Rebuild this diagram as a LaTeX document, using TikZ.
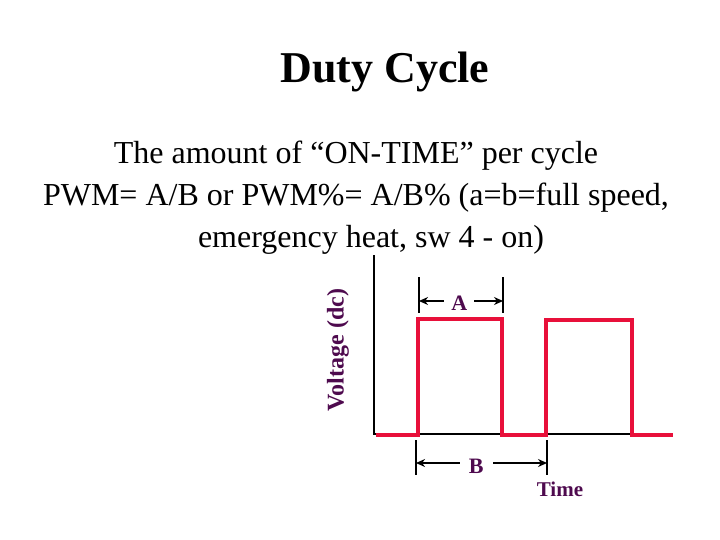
\documentclass[tikz,border=0pt]{standalone}
\usepackage{fontspec}
\setmainfont{Liberation Serif}
\usetikzlibrary{arrows.meta}
\definecolor{pulsered}{RGB}{232,16,58}
\definecolor{labelpurple}{RGB}{78,10,78}
\tikzset{
  pulse/.style={pulsered, line width=4pt, line join=miter},
  axisline/.style={black, line width=2pt},
  tick/.style={black, line width=1.6pt},
  span/.style={black, line width=1.4pt, {Stealth[length=9pt,width=8pt]}-{Stealth[length=9pt,width=8pt]}},
  lbl/.style={text=labelpurple, font=\fontsize{22}{26}\selectfont\bfseries},
}
\begin{document}
\begin{tikzpicture}[x=1pt, y=-1pt]
  \useasboundingbox (0,0) rectangle (720,540);
  % title and explanation
  \node (title) at (385,72) {\fontsize{44}{53}\selectfont\bfseries Duty Cycle};
  \node[align=center, font=\fontsize{32}{42}\selectfont] (text) at (356,198)
    {The amount of “ON-TIME” per cycle\\
     PWM= A/B or PWM\%= A/B\% (a=b=full speed,\\
     \hspace*{30pt}emergency heat, sw 4 - on)};
  % axes
  \draw[axisline] (374,255) -- (374,434) -- (672,434);
  \node[rotate=90, text=labelpurple, font=\fontsize{24}{28}\selectfont\bfseries] (vlabel) at (338,350) {Voltage (dc)};
  \node[lbl, font=\fontsize{21}{25}\selectfont\bfseries] (time) at (560,489) {Time};
  % pulses
  \draw[pulse] (376,435) -- (418,435) -- (418,319) -- (502,319) -- (502,435)
    -- (546,435) -- (546,320) -- (632,320) -- (632,435) -- (673,435);
  % width A
  \coordinate (a1) at (419,301);
  \coordinate (a2) at (503,301);
  \draw[tick] (419,277) -- (419,313);
  \draw[tick] (503,277) -- (503,313);
  \draw[span] (a1) -- (a2) node[pos=0.48, fill=white, lbl, inner xsep=7pt, yshift=-2pt] (A) {A};
  % period B
  \coordinate (b1) at (416,463);
  \coordinate (b2) at (547,463);
  \draw[tick] (416,440) -- (416,475);
  \draw[tick] (547,440) -- (547,475);
  \draw[span] (b1) -- (b2) node[pos=0.46, fill=white, lbl, inner xsep=9pt, yshift=-3pt] (B) {B};
\end{tikzpicture}
\end{document}
